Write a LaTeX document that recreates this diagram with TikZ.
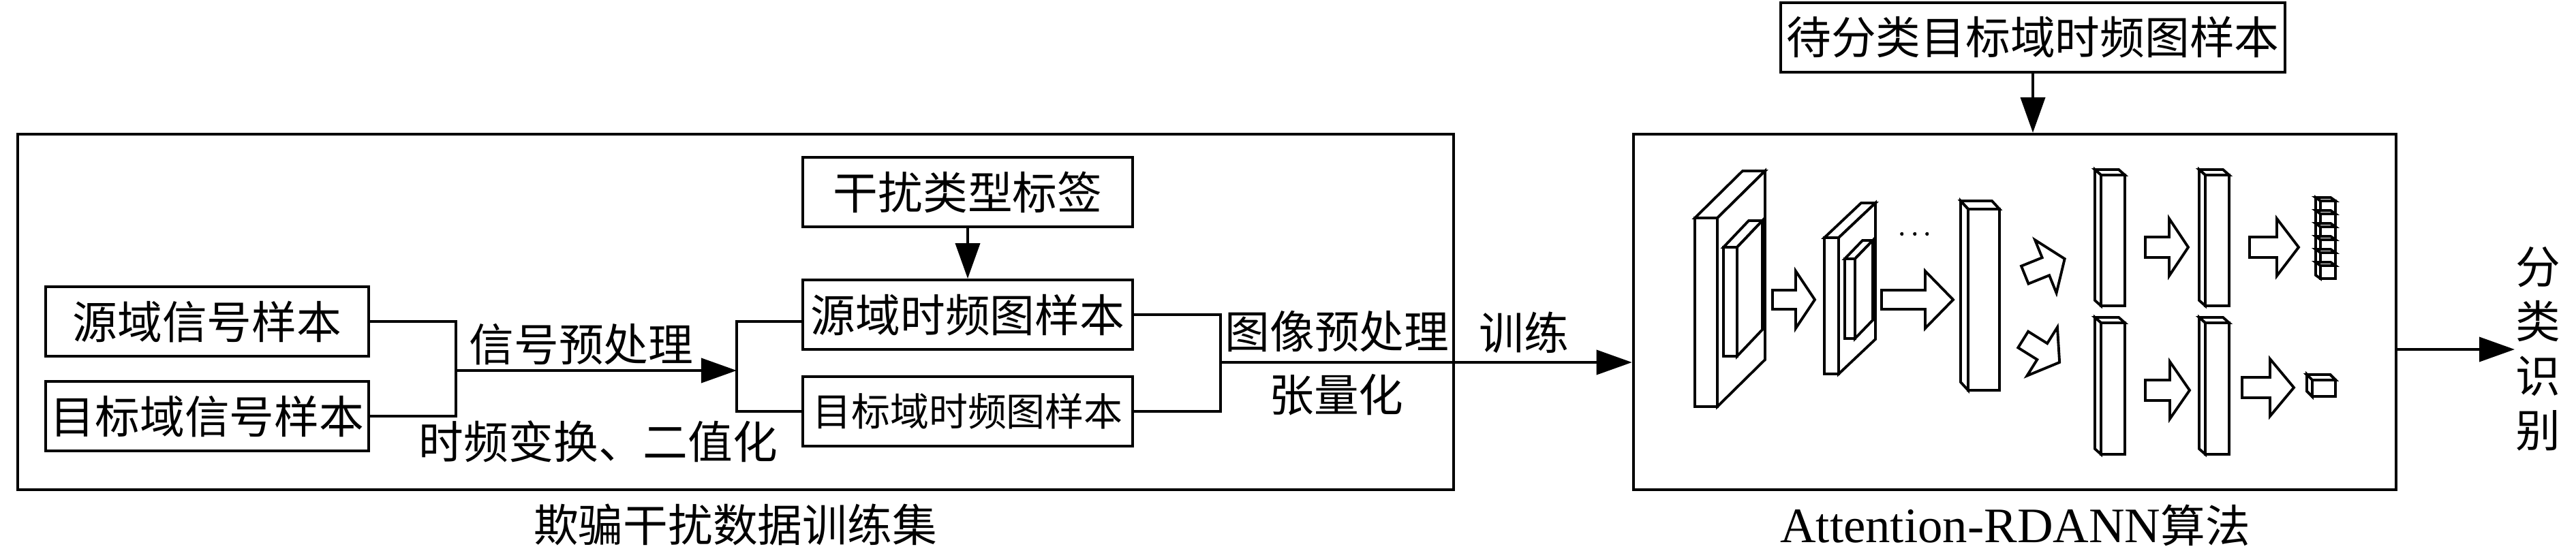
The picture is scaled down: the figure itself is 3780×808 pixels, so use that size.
\documentclass[tikz,border=0pt]{standalone}
\usepackage{fontspec}
\setmainfont{Noto Sans CJK SC}
\newfontfamily\latinfont{Liberation Serif}
\usetikzlibrary{arrows.meta}

\newcommand{\slab}[6]{%
  \pgfmathsetmacro\slabsx{#5>0 ? #1+#3 : #1}
  \filldraw[layer] (#1,#2) rectangle ({#1+#3},{#2+#4});
  \filldraw[layer] (#1,#2) -- ++(#5,#6) -- ++(#3,0) -- ({#1+#3},#2) -- cycle;
  \filldraw[layer] (\slabsx,#2) -- ++(#5,#6) -- ++(0,#4) -- (\slabsx,{#2+#4}) -- cycle;
}
\newcommand{\barrow}[6]{%
  \draw[layer] (#1,{#2-#5}) -- (#3,{#2-#5}) -- (#3,{#2-#6}) -- (#4,#2)
    -- (#3,{#2+#6}) -- (#3,{#2+#5}) -- (#1,{#2+#5}) -- cycle;
}

\begin{document}
\begin{tikzpicture}[x=0.01cm,y=-0.01cm]
  \tikzstyle{lbl}=[inner sep=0pt, font=\fontsize{18.7}{22}\selectfont]
  \tikzstyle{box}=[draw, line width=1.1pt, inner sep=0pt, minimum height=1.02cm, font=\fontsize{18.7}{22}\selectfont]
  \tikzstyle{frame}=[draw, line width=1.1pt, minimum height=5.22cm]
  \tikzstyle{conn}=[line width=1.1pt]
  \tikzstyle{arr}=[-{Triangle[length=5.2mm,width=3.6mm]}]
  \tikzstyle{layer}=[line width=1.1pt, fill=white]
  \useasboundingbox (0,0) rectangle (3780,808);

  \node[frame, minimum width=21.05cm] (trainset) at (1079.5,458) {};
  \node[frame, minimum width=11.19cm] (algo) at (2956.5,458) {};

  \node[box, minimum width=4.74cm] (srcsig) at (304,472) {源域信号样本};
  \node[box, minimum width=4.74cm] (tgtsig) at (304,611) {目标域信号样本};
  \node[box, minimum width=4.83cm] (tag) at (1420,282) {干扰类型标签};
  \node[box, minimum width=4.83cm] (srctf) at (1420,462) {源域时频图样本};
  \node[box, minimum width=4.83cm, font=\fontsize{16.2}{19}\selectfont] (tgttf) at (1420,604) {目标域时频图样本};
  \node[box, minimum width=7.39cm] (pend) at (2983,55) {待分类目标域时频图样本};

  \coordinate (j1) at (669,544);
  \coordinate (j2) at (1081,544);
  \coordinate (j3) at (1791,532);
  \coordinate (out) at (3690,513);

  \draw[conn] (srcsig.east) -| (j1) |- (tgtsig.east);
  \draw[conn, arr] (j1) -- (j2);
  \draw[conn] ([yshift=-0.1cm]srctf.west) -| (j2) |- (tgttf.west);
  \draw[conn, arr] (tag) -- (srctf);
  \draw[conn] (srctf.east) -| (j3) |- (tgttf.east);
  \draw[conn, arr] (j3) -- (j3 -| algo.west);
  \draw[conn, arr] (pend.south) -- (pend.south |- algo.north);
  \draw[conn, arr] (algo.east |- out) -- (out);

  \node[lbl] (sigpre) at (853,506) {信号预处理};
  \node[lbl] (tfbin) at (878,648) {时频变换、二值化};
  \node[lbl] (imgpre) at (1962,487) {图像预处理};
  \node[lbl] (tensor) at (1961,580) {张量化};
  \node[lbl] (train) at (2236,488) {训练};
  \node[lbl] (settitle) at (1079,770) {欺骗干扰数据训练集};
  \node[lbl] (algotitle) at (2957,771) {{\latinfont\fontsize{20.7}{24}\selectfont Attention-RDANN}算法};
  \node[lbl, align=center, font=\fontsize{18.7}{22.8}\selectfont] (cls) at (3724,512) {分\\类\\识\\别};

  \slab{2487}{320}{33}{277}{70}{-69}
  \slab{2529}{363}{20}{160}{37}{-39}
  \slab{2677}{349}{21}{200}{54}{-51}
  \slab{2707}{380}{15}{117}{26}{-27}
  \slab{2888}{307}{46}{266}{-11}{-12}
  \slab{3083}{257}{35}{192}{-9}{-8}
  \slab{3236}{257}{35}{192}{-9}{-8}
  \slab{3083}{474}{35}{193}{-9}{-8}
  \slab{3236}{474}{35}{193}{-9}{-8}
  \foreach \i in {0,...,5}
    \slab{3405}{295+19*\i}{22}{19}{-7}{-5}
  \slab{3393}{558}{34}{24}{-8}{-8}
  \node[lbl, font=\fontsize{12}{14}\selectfont] (dots) at (2810,345) {$\cdots$};

  \barrow{2601}{440}{2635}{2663}{14}{42}
  \barrow{2761}{440}{2825}{2866}{14}{42}
  \barrow{3148}{363}{3183}{3211}{15}{42}
  \barrow{3301}{363}{3341}{3373}{15}{42}
  \barrow{3148}{573}{3184}{3213}{15}{42}
  \barrow{3290}{569}{3331}{3366}{15}{42}
  \begin{scope}[shift={(3000,392)}, rotate=22]
    \barrow{-31}{0}{2}{32}{14}{42}
  \end{scope}
  \begin{scope}[shift={(2995,515)}, rotate=-32]
    \barrow{-31}{0}{2}{32}{14}{42}
  \end{scope}
\end{tikzpicture}
\end{document}
